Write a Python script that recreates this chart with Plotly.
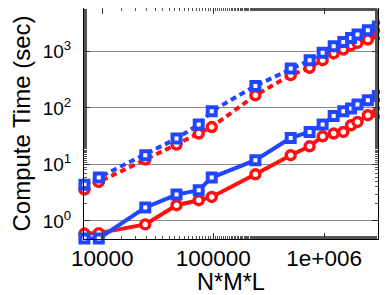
import plotly.graph_objects as go

# Problem size N*M*L
size = [6900, 9300, 24400, 46700, 74000, 97000, 240000, 500000, 740000,
        970000, 1220000, 1490000, 1750000, 2000000, 2480000, 3050000]

# Compute times (sec)
dashed_red = [3.6, 4.9, 12.2, 22.5, 35.3, 46, 168, 381, 514, 701, 922, 1085, 1290, 1420, 1630, 2000]
dashed_blue = [4.4, 5.9, 14.6, 28.8, 51, 87.7, 246, 500, 701, 955, 1240, 1480, 1740, 1990, 2380, 2770]
solid_red = [0.6, 0.61, 0.87, 1.9, 2.33, 2.66, 6.7, 14.6, 21, 31.6, 35.3, 37.7, 49.5, 56.6, 74.5, 83]
solid_blue = [0.49, 0.49, 1.73, 2.93, 3.5, 5.87, 11.9, 29.5, 37.7, 51, 72.4, 87.7, 98, 115, 137, 163]

x_tickvals = [1e4, 1e5, 1e6]
x_ticktext = ["10000", "100000", "1e+006"]
y_tickvals = [1, 10, 100, 1000]
y_ticktext = ["10<sup>0</sup>", "10<sup>1</sup>", "10<sup>2</sup>", "10<sup>3</sup>"]

RED = "#ff1010"
BLUE = "#2246ff"

fig = go.Figure()

def add(y, color, symbol, dash, msize, mlw):
    fig.add_trace(go.Scatter(
        x=size, y=y, mode="lines+markers",
        line=dict(color=color, width=4, dash=dash),
        marker=dict(symbol=symbol, size=msize, color="white",
                    line=dict(color=color, width=mlw)),
        cliponaxis=False, showlegend=False))

add(dashed_red, RED, "circle", "6px,4px", 9, 3.4)
add(solid_red, RED, "circle", "solid", 9, 3.4)
add(dashed_blue, BLUE, "square", "6px,4px", 8, 4)
add(solid_blue, BLUE, "square", "solid", 8, 4)

# the page body adds an 8px offset, so the figure is sized to fill the rest
fig.update_layout(
    width=380, height=287,
    margin=dict(l=76, r=10, t=0, b=56),
    paper_bgcolor="white", plot_bgcolor="white",
    font=dict(family="Liberation Sans, Arial, sans-serif", color="black"),
    xaxis=dict(
        type="log", range=[3.835, 6.486], automargin=False,
        tickmode="array", tickvals=x_tickvals, ticktext=x_ticktext,
        tickfont=dict(size=22.5),
        ticks="inside", ticklen=6, tickcolor="#333",
        showline=True, linecolor="black", linewidth=1, mirror="ticks",
        showgrid=False, zeroline=False,
        minor=dict(ticks="inside", ticklen=3, tickcolor="#555", showgrid=False),
        ticklabelstandoff=-1,
        title=dict(text="N*M*L", font=dict(size=23.5), standoff=6),
    ),
    yaxis=dict(
        type="log", range=[-0.319, 3.77], automargin=False,
        tickmode="array", tickvals=y_tickvals, ticktext=y_ticktext,
        tickfont=dict(size=19),
        ticks="inside", ticklen=6, tickcolor="#333",
        showline=True, linecolor="black", linewidth=1, mirror="ticks",
        showgrid=True, gridcolor="#8a8a8a", gridwidth=1, zeroline=False,
        minor=dict(ticks="inside", ticklen=3, tickcolor="#555", showgrid=False),
        ticklabelstandoff=8,
        title=dict(text="Compute Time (sec)", font=dict(size=24)),
    ),
)

fig.write_html("out.html")
